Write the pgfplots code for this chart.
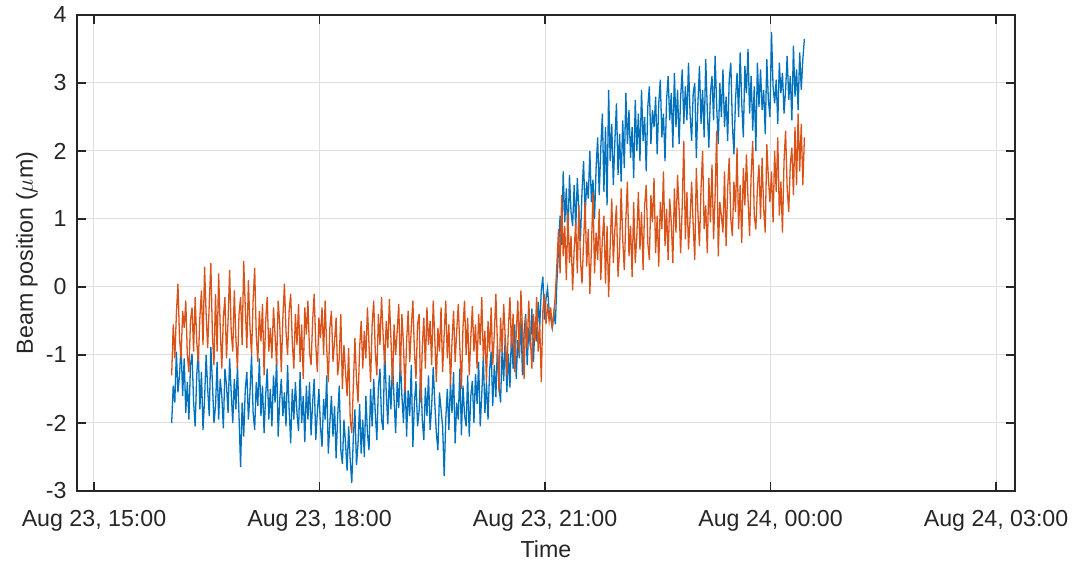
\documentclass[border=0pt]{standalone}
\usepackage{pgfplots}
\pgfplotsset{compat=1.18}
\usepackage{pgfplotstable}
\usepackage{fontspec}
\setmainfont{Liberation Sans}

\definecolor{mblue}{RGB}{0,114,189}
\definecolor{morange}{RGB}{217,83,25}
\definecolor{axgray}{RGB}{38,38,38}
\definecolor{gridgray}{RGB}{223,223,223}

% t: minutes after Aug 23, 15:00; beam position of the two monitors in micrometres
\pgfplotstableread{
t blue orange
62 -2.00 -1.30
63.25 -1.45 -0.55
64.5 -1.70 -1.05
65.75 -0.95 -0.40
67 -1.55 0.05
68.25 -1.30 -0.75
69.5 -0.86 -1.05
70.75 -1.60 -0.35
72 -1.05 -0.60
73.25 -1.85 -0.20
74.5 -1.40 -1.00
75.75 -1.95 -1.25
77 -1.15 -0.50
78.25 -0.98 -0.30
79.5 -1.70 -0.95
80.75 -2.05 -0.15
82 -1.30 -0.80
83.25 -0.92 -1.10
84.5 -1.80 -0.45
85.75 -1.25 -0.05
87 -2.10 -0.85
88.25 -1.65 0.30
89.5 -1.00 -0.40
90.75 -1.50 -0.90
92 -1.90 -0.25
93.25 -0.88 0.35
94.5 -1.40 -0.70
95.75 -2.00 -1.15
97 -1.75 -0.10
98.25 -1.10 -0.95
99.5 -1.95 0.20
100.75 -1.35 -0.60
102 -1.60 -1.20
103.25 -2.08 -0.45
104.5 -1.20 -0.15
105.75 -1.45 -1.05
107 -1.85 -0.50
108.25 -1.05 0.25
109.5 -1.55 -0.65
110.75 -2.00 -0.95
112 -1.35 -0.05
113.25 -1.80 -0.75
114.5 -1.15 -1.20
115.75 -1.90 -0.40
117 -2.65 -0.15
118.25 -1.70 -0.85
119.5 -2.20 0.38
120.75 -1.50 -0.30
122 -1.25 -0.90
123.25 -1.95 0.10
124.5 -1.55 -0.60
125.75 -1.00 -1.00
127 -1.85 -0.20
128.25 -2.10 0.28
129.5 -1.40 -0.70
130.75 -1.75 -1.10
132 -1.05 -0.35
133.25 -1.90 -0.80
134.5 -1.45 -0.25
135.75 -2.15 -1.30
137 -1.60 -0.50
138.25 -1.20 -0.15
139.5 -1.95 -0.95
140.75 -1.50 -0.60
142 -2.05 -1.05
143.25 -1.30 -0.30
144.5 -1.70 -0.70
145.75 -1.05 -1.15
147 -2.20 -0.20
148.25 -1.65 -0.55
149.5 -1.35 -1.25
150.75 -1.90 -0.45
152 -1.55 0.05
153.25 -2.05 -0.65
154.5 -1.15 -1.00
155.75 -1.80 -0.35
157 -2.30 -0.10
158.25 -1.50 -0.80
159.5 -1.95 -1.20
160.75 -1.40 -0.40
162 -1.85 -0.85
163.25 -2.12 -0.25
164.5 -1.25 -1.10
165.75 -2.00 -0.55
167 -1.60 -1.35
168.25 -2.28 -0.30
169.5 -1.45 -0.70
170.75 -1.95 -0.20
172 -1.40 -0.95
173.25 -2.18 -1.15
174.5 -1.70 -0.50
175.75 -1.35 -0.10
177 -2.25 -0.85
178.25 -1.85 -1.25
179.5 -1.50 -0.45
180.75 -2.05 -0.75
182 -2.35 -0.30
183.25 -1.65 -1.00
184.5 -1.95 -0.20
185.75 -1.30 -0.90
187 -2.45 -1.40
188.25 -2.00 -0.60
189.5 -1.60 -0.35
190.75 -2.20 -1.10
192 -1.75 -0.80
193.25 -2.52 -0.45
194.5 -1.90 -1.30
195.75 -1.45 -1.05
197 -2.40 -0.40
198.25 -2.60 -1.50
199.5 -1.95 -0.85
200.75 -2.30 -1.25
202 -2.70 -1.60
203.25 -2.05 -0.90
204.5 -2.55 -1.95
205.75 -2.88 -2.15
207 -2.20 -1.45
208.25 -1.80 -0.75
209.5 -2.62 -1.35
210.75 -2.30 -1.70
212 -1.72 -0.90
213.25 -2.45 -0.50
214.5 -1.95 -1.20
215.75 -2.50 -0.65
217 -1.60 -1.05
218.25 -2.15 -0.30
219.5 -2.40 -0.85
220.75 -1.50 -1.40
222 -2.05 -0.55
223.25 -1.35 -0.20
224.5 -1.85 -0.95
225.75 -2.25 -1.30
227 -1.48 -0.40
228.25 -1.20 -0.85
229.5 -1.95 -0.15
230.75 -2.10 -0.70
232 -0.92 -1.15
233.25 -1.55 -0.50
234.5 -2.02 -0.90
235.75 -1.30 -0.18
237 -1.80 -0.75
238.25 -1.10 -1.45
239.5 -1.65 -0.55
240.75 -2.15 -1.00
242 -1.40 -0.65
243.25 -1.78 -0.25
244.5 -1.05 -1.30
245.75 -1.60 -0.40
247 -2.00 -0.85
248.25 -1.28 -1.55
249.5 -2.20 -0.80
250.75 -1.52 -0.35
252 -1.90 -1.10
253.25 -1.15 -0.60
254.5 -2.35 -0.20
255.75 -1.70 -0.95
257 -1.38 -1.35
258.25 -2.05 -0.55
259.5 -1.82 -0.40
260.75 -1.20 -1.70
262 -1.95 -0.90
263.25 -2.25 -0.45
264.5 -1.48 -1.20
265.75 -1.90 -0.30
267 -1.30 -0.85
268.25 -2.10 -0.50
269.5 -1.75 -1.15
270.75 -1.18 -0.20
272 -1.70 -0.75
273.25 -2.15 -1.40
274.5 -2.40 -0.60
275.75 -1.55 -0.95
277 -1.80 -0.30
278.25 -2.05 -1.25
279.5 -2.78 -0.70
280.75 -1.95 -0.20
282 -1.50 -1.05
283.25 -2.10 -0.55
284.5 -1.40 -1.45
285.75 -1.85 -0.80
287 -1.25 -0.35
288.25 -2.30 -1.10
289.5 -1.70 -0.65
290.75 -1.95 -0.25
292 -1.20 -0.90
293.25 -2.18 -1.50
294.5 -1.45 -0.60
295.75 -1.88 -0.20
297 -2.05 -1.00
298.25 -1.30 -0.45
299.5 -2.20 -1.30
300.75 -1.60 -0.75
302 -1.38 -0.28
303.25 -2.00 -0.95
304.5 -1.28 -0.55
305.75 -1.72 -1.20
307 -1.10 -0.40
308.25 -2.05 -0.85
309.5 -1.58 -0.15
310.75 -1.02 -1.05
312 -1.85 -0.65
313.25 -1.40 -1.40
314.5 -1.95 -0.50
315.75 -1.22 -0.95
317 -0.95 -0.30
318.25 -1.75 -1.15
319.5 -1.15 -0.70
320.75 -1.62 -0.10
322 -0.85 -0.85
323.25 -1.45 -1.55
324.5 -1.70 -0.45
325.75 -0.90 -0.95
327 -1.38 -0.25
328.25 -0.70 -0.75
329.5 -1.55 -1.30
330.75 -0.98 -0.60
332 -1.48 -0.15
333.25 -0.62 -0.90
334.5 -1.20 -0.40
335.75 -0.55 -1.25
337 -1.35 -0.70
338.25 -0.78 -0.20
339.5 -1.05 -1.00
340.75 -0.45 -0.05
342 -1.30 -0.65
343.25 -0.68 -1.35
344.5 -0.40 -0.45
345.75 -1.15 -0.90
347 -0.60 -0.20
348.25 -0.88 -0.75
349.5 -0.32 -1.20
350.75 -1.10 -0.40
352 -0.52 -0.80
353.25 -0.80 -0.15
354.5 -0.22 -0.95
355.75 -0.58 -0.55
357 -0.05 -1.40
358.25 0.15 -0.35
359.5 -0.48 -0.10
360.75 -0.18 -0.55
362 -0.02 -0.25
363.25 -0.35 -0.50
364.5 -0.45 -0.30
365.75 -0.60 -0.62
367 -0.38 -0.40
368.25 -0.55 -0.10
369.5 0.10 0.35
370.75 0.55 0.85
372 1.05 0.20
373.25 0.62 1.35
374.5 1.70 0.45
375.75 0.95 0.90
377 1.45 0.10
378.25 0.70 1.10
379.5 1.65 0.35
380.75 1.10 0.75
382 0.90 -0.05
383.25 1.50 0.55
384.5 0.85 0.95
385.75 1.60 0.20
387 1.12 1.20
388.25 0.68 0.40
389.5 1.40 0.05
390.75 1.85 0.65
392 1.05 1.25
393.25 1.55 0.30
394.5 1.30 0.85
395.75 2.00 -0.10
397 1.25 0.55
398.25 1.58 1.40
399.5 1.00 0.20
400.75 1.75 0.80
402 2.20 0.40
403.25 1.35 1.15
404.5 2.05 0.10
405.75 2.55 0.70
407 1.40 1.05
408.25 2.35 0.05
409.5 1.20 0.90
410.75 2.90 -0.15
412 1.85 0.60
413.25 2.40 1.30
414.5 1.50 0.35
415.75 2.15 0.85
417 2.70 1.20
418.25 1.65 0.15
419.5 2.25 0.55
420.75 1.55 1.45
422 2.45 0.70
423.25 1.75 0.25
424.5 2.85 1.00
425.75 2.10 1.55
427 2.60 0.45
428.25 1.90 0.90
429.5 2.35 0.15
430.75 1.60 1.25
432 2.75 0.35
433.25 2.00 0.75
434.5 2.55 1.40
435.75 1.85 0.55
437 2.90 1.10
438.25 2.15 0.25
439.5 2.50 1.20
440.75 1.70 1.50
442 2.65 0.65
443.25 2.95 0.40
444.5 2.10 1.35
445.75 2.60 0.95
447 2.35 1.60
448.25 2.80 0.50
449.5 1.95 1.05
450.75 2.70 0.30
452 3.05 1.25
453.25 2.20 0.85
454.5 2.55 1.70
455.75 1.85 0.60
457 2.75 1.15
458.25 3.10 0.40
459.5 2.45 1.30
460.75 2.85 0.95
462 2.05 0.35
463.25 3.15 1.45
464.5 2.35 0.80
465.75 2.90 1.65
467 2.10 1.15
468.25 2.80 0.50
469.5 3.20 1.20
470.75 2.40 2.15
472 2.95 0.70
473.25 2.45 1.40
474.5 3.30 0.55
475.75 2.55 1.00
477 2.15 1.55
478.25 2.85 0.90
479.5 3.00 0.40
480.75 1.90 1.75
482 2.70 1.10
483.25 3.25 0.60
484.5 2.40 1.45
485.75 2.90 2.00
487 2.20 0.85
488.25 3.35 1.20
489.5 2.60 0.50
490.75 2.05 1.60
492 2.85 0.95
493.25 3.10 1.80
494.5 2.45 0.70
495.75 3.40 1.35
497 2.65 2.30
498.25 2.10 0.45
499.5 3.00 1.25
500.75 2.50 1.05
502 3.20 0.80
503.25 2.35 1.70
504.5 2.80 0.60
505.75 2.15 1.45
507 3.05 1.90
508.25 3.30 1.00
509.5 2.40 0.75
510.75 1.95 1.55
512 2.75 1.10
513.25 3.15 2.05
514.5 2.50 0.85
515.75 3.45 1.50
517 2.70 0.65
518.25 2.20 1.75
519.5 3.25 1.20
520.75 2.85 1.95
522 3.50 1.30
523.25 2.55 0.75
524.5 3.10 1.65
525.75 2.30 2.15
527 2.95 1.05
528.25 2.00 0.85
529.5 3.30 1.45
530.75 2.65 1.80
532 3.20 1.00
533.25 2.60 1.90
534.5 2.90 1.15
535.75 2.25 0.80
537 3.35 2.10
538.25 2.75 1.60
539.5 2.50 1.25
540.75 3.75 1.70
542 2.95 0.95
543.25 2.70 2.00
544.5 3.05 1.40
545.75 2.40 2.20
547 3.30 1.05
548.25 2.85 1.55
549.5 3.15 0.80
550.75 2.55 1.85
552 2.90 2.30
553.25 3.40 1.45
554.5 2.75 1.10
555.75 3.10 1.80
557 2.45 2.05
558.25 3.55 1.35
559.5 2.80 2.35
560.75 3.20 1.50
562 2.60 2.55
563.25 3.45 1.70
564.5 2.90 2.40
565.75 3.35 1.50
567 3.65 2.20
}\beam

\newcommand{\chartfont}{\fontsize{11.6}{13.9}\selectfont}

\begin{document}
\begin{tikzpicture}
\begin{axis}[
  scale only axis,
  width=469pt, height=238pt,
  xmin=-13.57, xmax=735.1,
  ymin=-3, ymax=4,
  xtick={0,180,360,540,720},
  xticklabels={{Aug 23, 15:00},{Aug 23, 18:00},{Aug 23, 21:00},{Aug 24, 00:00},{Aug 24, 03:00}},
  ytick={-3,-2,-1,0,1,2,3,4},
  yticklabels={-3,-2,-1,0,1,2,3,4},
  grid=major,
  major grid style={gridgray, line width=0.5pt},
  axis line style={axgray, line width=0.6pt},
  tick style={axgray, line width=0.6pt},
  major tick length=4.7pt,
  tick align=inside,
  xtick pos=both, ytick pos=both,
  tick label style={font=\chartfont, text=axgray},
  xticklabel style={anchor=base, yshift=-18pt},
  yticklabel style={anchor=east, inner sep=0pt, xshift=-5pt},
  label style={font=\chartfont, text=axgray},
  xlabel={Time},
  xlabel style={at={(axis description cs:0.5,0)}, anchor=base, yshift=-33.5pt},
  ylabel={Beam position ($\mu$m)},
  ylabel style={at={(axis description cs:-0.0469,0.5)}, anchor=base},
  title={Time},
  title style={at={(0.5,1)}, anchor=base, yshift=3.5pt, inner sep=0pt, font=\chartfont, text=axgray},
  clip=true,
]
\addplot[mblue, line width=0.65pt, no markers] table[x=t, y=blue] {\beam};
\addplot[morange, line width=0.65pt, no markers] table[x=t, y=orange] {\beam};
\end{axis}
\pgfresetboundingbox
\path[use as bounding box]
  ([xshift=-38.5pt, yshift=-35.5pt]current axis.south west)
  rectangle ([xshift=28.5pt, yshift=7.5pt]current axis.north east);
\end{tikzpicture}
\end{document}
